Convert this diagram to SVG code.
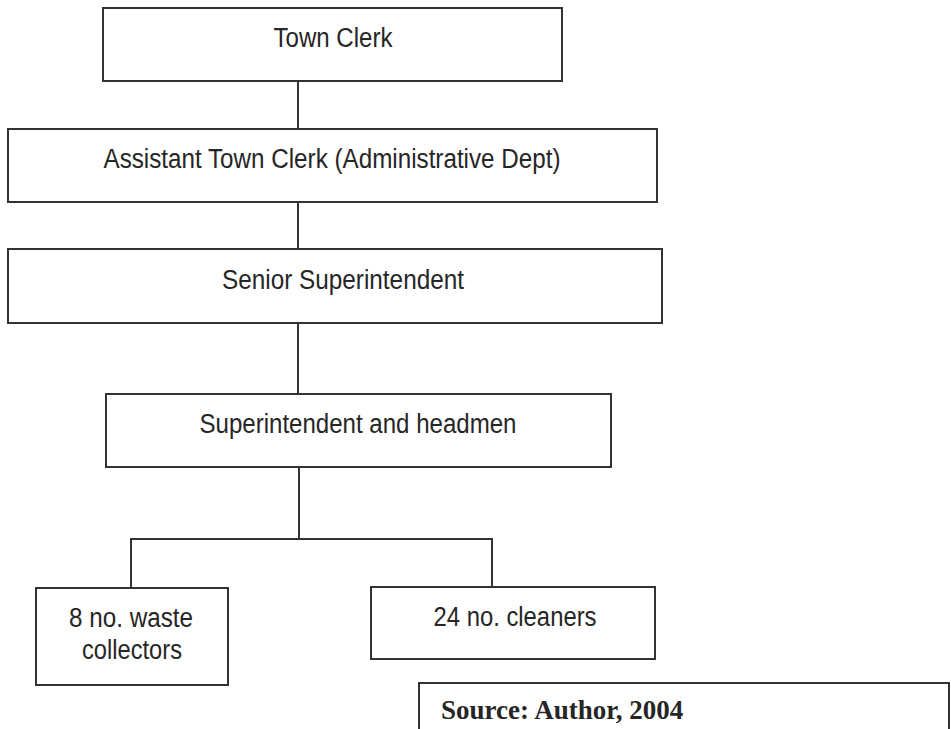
<svg xmlns="http://www.w3.org/2000/svg" width="951" height="729" viewBox="0 0 951 729">
<style>
.box{fill:#fff;stroke:#333;stroke-width:2}
.lbl{font-family:"Liberation Sans",Arial,sans-serif;font-size:27px;fill:#262626;text-anchor:middle}
.src{font-family:"Liberation Serif","Times New Roman",serif;font-size:27px;font-weight:bold;fill:#262626}
.con{stroke:#333;stroke-width:2;fill:none}
</style>
<rect width="951" height="729" fill="#fff"/>
<g id="connectors">
<line class="con" x1="298" y1="81" x2="298" y2="129"/>
<line class="con" x1="298" y1="202" x2="298" y2="249"/>
<line class="con" x1="298" y1="323" x2="298" y2="394"/>
<line class="con" x1="299" y1="467" x2="299" y2="539"/>
<polyline class="con" points="131,588 131,539 492,539 492,587"/>
</g>
<g id="town-clerk">
<rect class="box" x="103" y="8" width="459" height="73"/>
<text class="lbl" x="333" y="47" textLength="119" lengthAdjust="spacingAndGlyphs">Town Clerk</text>
</g>
<g id="assistant-town-clerk">
<rect class="box" x="8" y="129" width="649" height="73"/>
<text class="lbl" x="332" y="168" textLength="457" lengthAdjust="spacingAndGlyphs">Assistant Town Clerk (Administrative Dept)</text>
</g>
<g id="senior-superintendent">
<rect class="box" x="8" y="249" width="654" height="74"/>
<text class="lbl" x="343" y="289" textLength="242" lengthAdjust="spacingAndGlyphs">Senior Superintendent</text>
</g>
<g id="superintendent-headmen">
<rect class="box" x="106" y="394" width="505" height="73"/>
<text class="lbl" x="358" y="433" textLength="317" lengthAdjust="spacingAndGlyphs">Superintendent and headmen</text>
</g>
<g id="waste-collectors">
<rect class="box" x="36" y="588" width="192" height="97"/>
<text class="lbl" x="131" y="627" textLength="124" lengthAdjust="spacingAndGlyphs">8 no. waste</text>
<text class="lbl" x="132" y="659" textLength="100" lengthAdjust="spacingAndGlyphs">collectors</text>
</g>
<g id="cleaners">
<rect class="box" x="371" y="587" width="284" height="72"/>
<text class="lbl" x="515" y="626" textLength="163" lengthAdjust="spacingAndGlyphs">24 no. cleaners</text>
</g>
<g id="source">
<rect class="box" x="419" y="683" width="530" height="60"/>
<text class="src" x="441" y="719">Source: Author, 2004</text>
</g>
</svg>
